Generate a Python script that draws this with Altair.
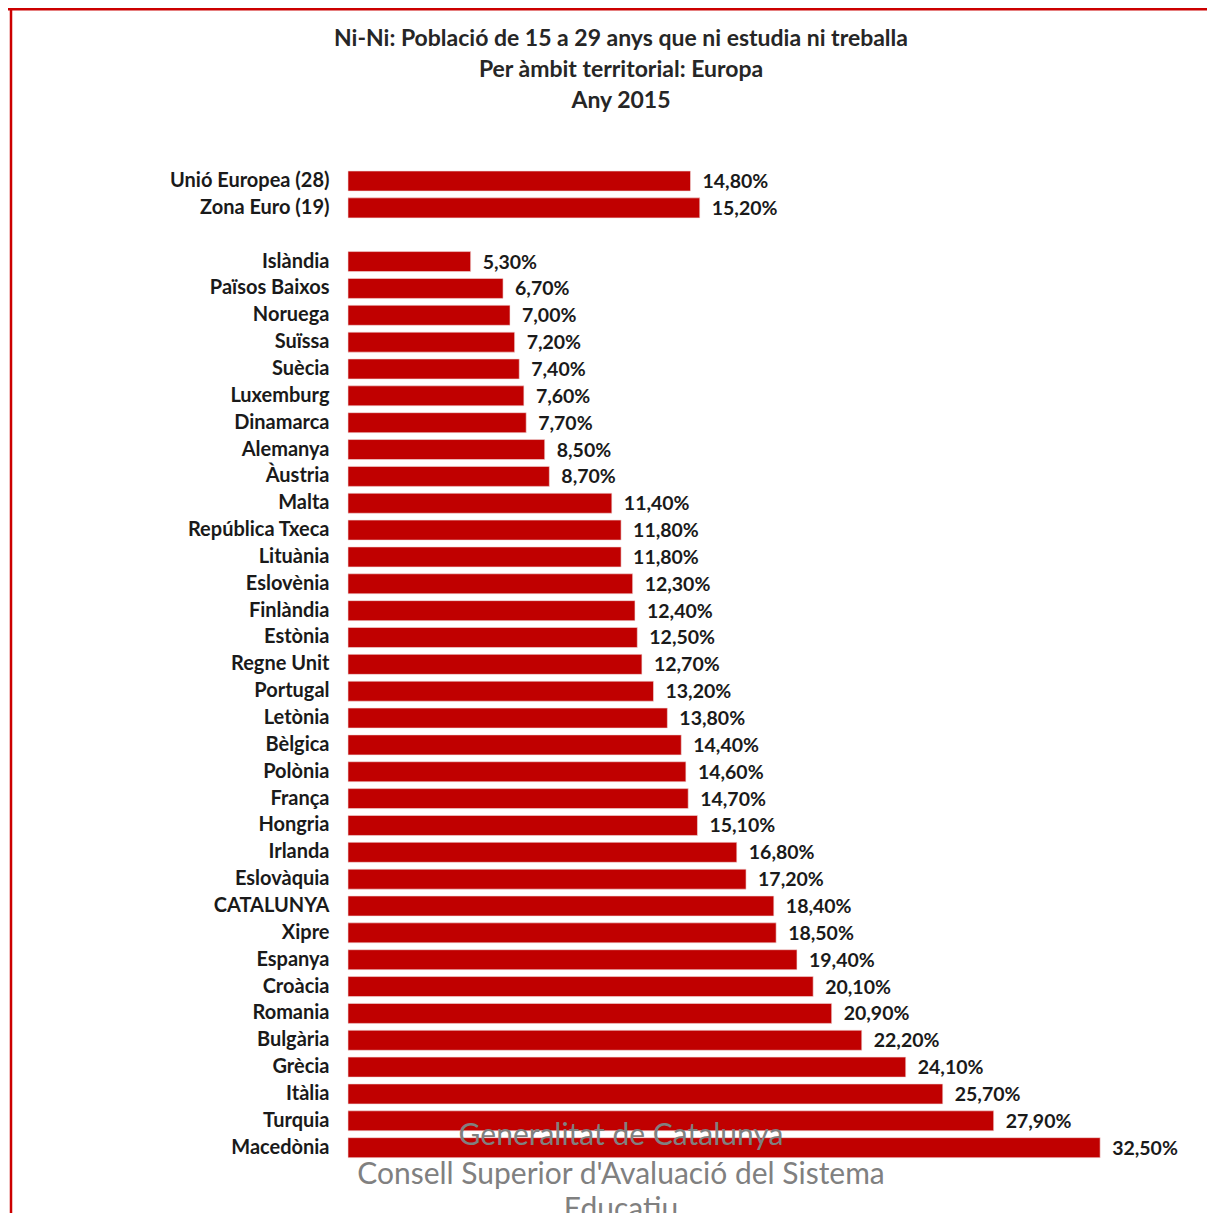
import altair as alt
import pandas as pd

categories = [
    "Unió Europea (28)", "Zona Euro (19)",
    "Islàndia", "Països Baixos", "Noruega", "Suïssa", "Suècia", "Luxemburg",
    "Dinamarca", "Alemanya", "Àustria", "Malta", "República Txeca", "Lituània",
    "Eslovènia", "Finlàndia", "Estònia", "Regne Unit", "Portugal", "Letònia",
    "Bèlgica", "Polònia", "França", "Hongria", "Irlanda", "Eslovàquia",
    "CATALUNYA", "Xipre", "Espanya", "Croàcia", "Romania", "Bulgària",
    "Grècia", "Itàlia", "Turquia", "Macedònia",
]
values = [
    14.8, 15.2,
    5.3, 6.7, 7.0, 7.2, 7.4, 7.6,
    7.7, 8.5, 8.7, 11.4, 11.8, 11.8,
    12.3, 12.4, 12.5, 12.7, 13.2, 13.8,
    14.4, 14.6, 14.7, 15.1, 16.8, 17.2,
    18.4, 18.5, 19.4, 20.1, 20.9, 22.2,
    24.1, 25.7, 27.9, 32.5,
]
title_lines = [
    "Ni-Ni: Població de 15 a 29 anys que ni estudia ni treballa",
    "Per àmbit territorial: Europa",
    "Any 2015",
]
footer_lines = [
    "Generalitat de Catalunya",
    "Consell Superior d'Avaluació del Sistema",
    "Educatiu",
]

# Domain with blank separator row after the aggregates
domain = categories[:2] + [" "] + categories[2:]

df = pd.DataFrame({"cat": categories, "val": values})
df["label"] = df["val"].map(lambda v: f"{v:.2f}".replace(".", ",") + "%")

FONT = "Lato"
RED = "#C00000"
W = 810
H = 993.5

yscale = alt.Scale(domain=domain, paddingInner=0.255, paddingOuter=0.1275)
xscale = alt.Scale(domain=[0, 35])

base = alt.Chart(df)

bars = base.mark_bar(color=RED, stroke="#f2dcdc", strokeWidth=0.6).encode(
    y=alt.Y("cat:N", scale=yscale, sort=None,
            axis=alt.Axis(title=None, domain=False, ticks=False, labelPadding=19,
                          labelFont=FONT, labelFontSize=20, labelFontWeight="bold",
                          labelColor="#1a1a1a")),
    x=alt.X("val:Q", scale=xscale, axis=None),
)

texts = base.mark_text(align="left", baseline="middle", dx=12, dy=1,
                       font=FONT, fontSize=19.5, fontWeight="bold",
                       color="#1a1a1a").encode(
    y=alt.Y("cat:N", scale=yscale, sort=None),
    x=alt.X("val:Q", scale=xscale),
    text="label:N",
)

one = pd.DataFrame({"a": [0]})
frame_top = alt.Chart(one).mark_rule(color="#CC0000", strokeWidth=3).encode(
    x=alt.value(-340), x2=alt.value(W + 60), y=alt.value(-158.5))
frame_left = alt.Chart(one).mark_rule(color="#CC0000", strokeWidth=2.5).encode(
    x=alt.value(-337), y=alt.value(-160), y2=alt.value(H + 60))

title_df = pd.DataFrame({"t": title_lines, "yy": [-128.6, -97.6, -66.6]})
title = alt.Chart(title_df).mark_text(
    align="center", baseline="middle", font=FONT, fontSize=23,
    fontWeight="bold", color="#262626").encode(
    x=alt.value(273), y=alt.Y("yy:Q", scale=None), text="t:N")

footer_df = pd.DataFrame({"t": footer_lines, "yy": [968, 1007, 1042]})
footer = alt.Chart(footer_df).mark_text(
    align="center", baseline="middle", font=FONT, fontSize=30,
    color="#808080").encode(
    x=alt.value(273), y=alt.Y("yy:Q", scale=None), text="t:N")

chart = alt.layer(frame_top, frame_left, bars, texts, title, footer).properties(
    width=W, height=H,
    padding={"left": 340, "top": 159.6, "right": 49, "bottom": 52},
    autosize=alt.AutoSizeParams(type="none"),
).configure(background="white").configure_view(stroke=None)

chart.save("out.html", embed_options={"renderer": "svg", "actions": False})
